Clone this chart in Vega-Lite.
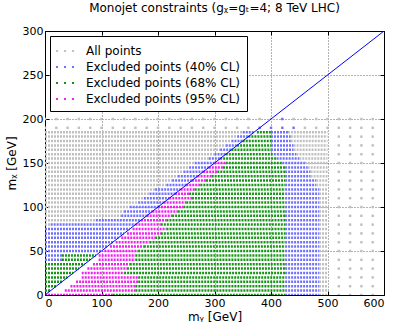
{
"$schema":"https://vega.github.io/schema/vega-lite/v6.json",
"width":339,"height":264,"autosize":"none",
"padding":{"left":45,"top":31,"right":15,"bottom":33},
"title":{"text":"Monojet constraints (gᵪ=gₜ=4; 8 TeV LHC)","fontSize":12,"fontWeight":"normal","font":"DejaVu Sans","color":"black","anchor":"middle","offset":10},
"config":{"view":{"stroke":"black","strokeWidth":1},
"axis":{"labelFont":"DejaVu Sans","labelFontSize":11,"labelColor":"black","titleFont":"DejaVu Sans","titleFontSize":12,"titleFontWeight":"normal","titleColor":"black","domain":false,"tickColor":"black","tickSize":-4,"labelPadding":6,"grid":true,"gridColor":"black","gridDash":[1,2],"gridOpacity":0.6,"zindex":1}},
"resolve":{"axis":{"x":"independent","y":"independent"}},
"datasets":{
"rows":[
{"y":0,"x1":0,"x2":120,"c":"m"},{"y":0,"x1":120,"x2":425,"c":"g"},{"y":0,"x1":425,"x2":485,"c":"b"},{"y":0,"x1":485,"x2":500,"c":"a"},
{"y":5,"x1":0,"x2":10,"c":"g"},{"y":5,"x1":35,"x2":160,"c":"m"},{"y":5,"x1":160,"x2":425,"c":"g"},{"y":5,"x1":425,"x2":485,"c":"b"},{"y":5,"x1":485,"x2":500,"c":"a"},
{"y":10,"x1":0,"x2":20,"c":"g"},{"y":10,"x1":45,"x2":160,"c":"m"},{"y":10,"x1":160,"x2":425,"c":"g"},{"y":10,"x1":425,"x2":485,"c":"b"},{"y":10,"x1":485,"x2":500,"c":"a"},
{"y":15,"x1":0,"x2":30,"c":"g"},{"y":15,"x1":55,"x2":165,"c":"m"},{"y":15,"x1":165,"x2":425,"c":"g"},{"y":15,"x1":425,"x2":485,"c":"b"},{"y":15,"x1":485,"x2":500,"c":"a"},
{"y":20,"x1":0,"x2":40,"c":"g"},{"y":20,"x1":65,"x2":165,"c":"m"},{"y":20,"x1":165,"x2":425,"c":"g"},{"y":20,"x1":425,"x2":485,"c":"b"},{"y":20,"x1":485,"x2":500,"c":"a"},
{"y":25,"x1":0,"x2":50,"c":"g"},{"y":25,"x1":65,"x2":140,"c":"m"},{"y":25,"x1":140,"x2":425,"c":"g"},{"y":25,"x1":425,"x2":485,"c":"b"},{"y":25,"x1":485,"x2":500,"c":"a"},
{"y":30,"x1":0,"x2":60,"c":"g"},{"y":30,"x1":75,"x2":145,"c":"m"},{"y":30,"x1":145,"x2":425,"c":"g"},{"y":30,"x1":425,"x2":485,"c":"b"},{"y":30,"x1":485,"x2":500,"c":"a"},
{"y":35,"x1":0,"x2":70,"c":"g"},{"y":35,"x1":85,"x2":150,"c":"m"},{"y":35,"x1":150,"x2":425,"c":"g"},{"y":35,"x1":425,"x2":485,"c":"b"},{"y":35,"x1":485,"x2":500,"c":"a"},
{"y":40,"x1":0,"x2":30,"c":"b"},{"y":40,"x1":30,"x2":80,"c":"g"},{"y":40,"x1":95,"x2":160,"c":"m"},{"y":40,"x1":160,"x2":425,"c":"g"},{"y":40,"x1":425,"x2":485,"c":"b"},{"y":40,"x1":485,"x2":500,"c":"a"},
{"y":45,"x1":0,"x2":30,"c":"b"},{"y":45,"x1":30,"x2":90,"c":"g"},{"y":45,"x1":95,"x2":160,"c":"m"},{"y":45,"x1":160,"x2":425,"c":"g"},{"y":45,"x1":425,"x2":485,"c":"b"},{"y":45,"x1":485,"x2":500,"c":"a"},
{"y":50,"x1":0,"x2":100,"c":"b"},{"y":50,"x1":105,"x2":165,"c":"m"},{"y":50,"x1":165,"x2":425,"c":"g"},{"y":50,"x1":425,"x2":485,"c":"b"},{"y":50,"x1":485,"x2":500,"c":"a"},
{"y":55,"x1":0,"x2":110,"c":"b"},{"y":55,"x1":115,"x2":175,"c":"m"},{"y":55,"x1":175,"x2":425,"c":"g"},{"y":55,"x1":425,"x2":485,"c":"b"},{"y":55,"x1":485,"x2":500,"c":"a"},
{"y":60,"x1":0,"x2":120,"c":"b"},{"y":60,"x1":125,"x2":185,"c":"m"},{"y":60,"x1":185,"x2":425,"c":"g"},{"y":60,"x1":425,"x2":485,"c":"b"},{"y":60,"x1":485,"x2":500,"c":"a"},
{"y":65,"x1":0,"x2":130,"c":"b"},{"y":65,"x1":135,"x2":195,"c":"m"},{"y":65,"x1":195,"x2":425,"c":"g"},{"y":65,"x1":425,"x2":485,"c":"b"},{"y":65,"x1":485,"x2":500,"c":"a"},
{"y":70,"x1":0,"x2":140,"c":"b"},{"y":70,"x1":145,"x2":205,"c":"m"},{"y":70,"x1":205,"x2":425,"c":"g"},{"y":70,"x1":425,"x2":485,"c":"b"},{"y":70,"x1":485,"x2":500,"c":"a"},
{"y":75,"x1":0,"x2":150,"c":"b"},{"y":75,"x1":155,"x2":215,"c":"m"},{"y":75,"x1":215,"x2":425,"c":"g"},{"y":75,"x1":425,"x2":485,"c":"b"},{"y":75,"x1":485,"x2":500,"c":"a"},
{"y":80,"x1":0,"x2":10,"c":"a"},{"y":80,"x1":10,"x2":160,"c":"b"},{"y":80,"x1":160,"x2":205,"c":"m"},{"y":80,"x1":205,"x2":425,"c":"g"},{"y":80,"x1":425,"x2":485,"c":"b"},{"y":80,"x1":485,"x2":500,"c":"a"},
{"y":85,"x1":0,"x2":90,"c":"a"},{"y":85,"x1":90,"x2":170,"c":"b"},{"y":85,"x1":170,"x2":215,"c":"m"},{"y":85,"x1":215,"x2":425,"c":"g"},{"y":85,"x1":425,"x2":485,"c":"b"},{"y":85,"x1":485,"x2":500,"c":"a"},
{"y":90,"x1":0,"x2":135,"c":"a"},{"y":90,"x1":135,"x2":180,"c":"b"},{"y":90,"x1":180,"x2":225,"c":"m"},{"y":90,"x1":225,"x2":425,"c":"g"},{"y":90,"x1":425,"x2":485,"c":"b"},{"y":90,"x1":485,"x2":500,"c":"a"},
{"y":95,"x1":0,"x2":140,"c":"a"},{"y":95,"x1":140,"x2":190,"c":"b"},{"y":95,"x1":190,"x2":235,"c":"m"},{"y":95,"x1":235,"x2":425,"c":"g"},{"y":95,"x1":425,"x2":485,"c":"b"},{"y":95,"x1":485,"x2":500,"c":"a"},
{"y":100,"x1":0,"x2":150,"c":"a"},{"y":100,"x1":150,"x2":200,"c":"b"},{"y":100,"x1":200,"x2":245,"c":"m"},{"y":100,"x1":245,"x2":425,"c":"g"},{"y":100,"x1":425,"x2":485,"c":"b"},{"y":100,"x1":485,"x2":500,"c":"a"},
{"y":105,"x1":0,"x2":165,"c":"a"},{"y":105,"x1":165,"x2":210,"c":"b"},{"y":105,"x1":210,"x2":250,"c":"m"},{"y":105,"x1":250,"x2":425,"c":"g"},{"y":105,"x1":425,"x2":485,"c":"b"},{"y":105,"x1":485,"x2":500,"c":"a"},
{"y":110,"x1":0,"x2":175,"c":"a"},{"y":110,"x1":175,"x2":220,"c":"b"},{"y":110,"x1":220,"x2":260,"c":"m"},{"y":110,"x1":260,"x2":425,"c":"g"},{"y":110,"x1":425,"x2":485,"c":"b"},{"y":110,"x1":485,"x2":500,"c":"a"},
{"y":115,"x1":0,"x2":185,"c":"a"},{"y":115,"x1":185,"x2":230,"c":"b"},{"y":115,"x1":230,"x2":255,"c":"m"},{"y":115,"x1":255,"x2":425,"c":"g"},{"y":115,"x1":425,"x2":485,"c":"b"},{"y":115,"x1":485,"x2":500,"c":"a"},
{"y":120,"x1":0,"x2":195,"c":"a"},{"y":120,"x1":195,"x2":240,"c":"b"},{"y":120,"x1":240,"x2":265,"c":"m"},{"y":120,"x1":265,"x2":425,"c":"g"},{"y":120,"x1":425,"x2":485,"c":"b"},{"y":120,"x1":485,"x2":500,"c":"a"},
{"y":125,"x1":0,"x2":215,"c":"a"},{"y":125,"x1":215,"x2":250,"c":"b"},{"y":125,"x1":250,"x2":275,"c":"m"},{"y":125,"x1":275,"x2":425,"c":"g"},{"y":125,"x1":425,"x2":480,"c":"b"},{"y":125,"x1":480,"x2":500,"c":"a"},
{"y":130,"x1":0,"x2":225,"c":"a"},{"y":130,"x1":225,"x2":260,"c":"b"},{"y":130,"x1":260,"x2":285,"c":"m"},{"y":130,"x1":285,"x2":425,"c":"g"},{"y":130,"x1":425,"x2":480,"c":"b"},{"y":130,"x1":480,"x2":500,"c":"a"},
{"y":135,"x1":0,"x2":235,"c":"a"},{"y":135,"x1":235,"x2":270,"c":"b"},{"y":135,"x1":270,"x2":295,"c":"m"},{"y":135,"x1":295,"x2":425,"c":"g"},{"y":135,"x1":425,"x2":470,"c":"b"},{"y":135,"x1":470,"x2":500,"c":"a"},
{"y":140,"x1":0,"x2":245,"c":"a"},{"y":140,"x1":245,"x2":280,"c":"b"},{"y":140,"x1":280,"x2":305,"c":"m"},{"y":140,"x1":305,"x2":425,"c":"g"},{"y":140,"x1":425,"x2":470,"c":"b"},{"y":140,"x1":470,"x2":500,"c":"a"},
{"y":145,"x1":0,"x2":255,"c":"a"},{"y":145,"x1":255,"x2":290,"c":"b"},{"y":145,"x1":290,"x2":315,"c":"m"},{"y":145,"x1":315,"x2":425,"c":"g"},{"y":145,"x1":425,"x2":465,"c":"b"},{"y":145,"x1":465,"x2":500,"c":"a"},
{"y":150,"x1":0,"x2":265,"c":"a"},{"y":150,"x1":265,"x2":300,"c":"b"},{"y":150,"x1":300,"x2":320,"c":"m"},{"y":150,"x1":320,"x2":420,"c":"g"},{"y":150,"x1":420,"x2":460,"c":"b"},{"y":150,"x1":460,"x2":500,"c":"a"},
{"y":155,"x1":0,"x2":290,"c":"a"},{"y":155,"x1":290,"x2":310,"c":"b"},{"y":155,"x1":310,"x2":410,"c":"g"},{"y":155,"x1":410,"x2":450,"c":"b"},{"y":155,"x1":450,"x2":500,"c":"a"},
{"y":160,"x1":0,"x2":300,"c":"a"},{"y":160,"x1":300,"x2":320,"c":"b"},{"y":160,"x1":320,"x2":405,"c":"g"},{"y":160,"x1":405,"x2":445,"c":"b"},{"y":160,"x1":445,"x2":500,"c":"a"},
{"y":165,"x1":0,"x2":310,"c":"a"},{"y":165,"x1":310,"x2":330,"c":"b"},{"y":165,"x1":330,"x2":400,"c":"g"},{"y":165,"x1":400,"x2":440,"c":"b"},{"y":165,"x1":440,"x2":500,"c":"a"},
{"y":170,"x1":0,"x2":320,"c":"a"},{"y":170,"x1":320,"x2":340,"c":"b"},{"y":170,"x1":340,"x2":400,"c":"g"},{"y":170,"x1":400,"x2":440,"c":"b"},{"y":170,"x1":440,"x2":500,"c":"a"},
{"y":175,"x1":0,"x2":330,"c":"a"},{"y":175,"x1":330,"x2":350,"c":"b"},{"y":175,"x1":350,"x2":400,"c":"g"},{"y":175,"x1":400,"x2":435,"c":"b"},{"y":175,"x1":435,"x2":500,"c":"a"},
{"y":180,"x1":0,"x2":340,"c":"a"},{"y":180,"x1":340,"x2":360,"c":"b"},{"y":180,"x1":360,"x2":400,"c":"g"},{"y":180,"x1":400,"x2":435,"c":"b"},{"y":180,"x1":435,"x2":500,"c":"a"},
{"y":185,"x1":0,"x2":350,"c":"a"},{"y":185,"x1":350,"x2":370,"c":"b"},{"y":185,"x1":375,"x2":400,"c":"g"},{"y":185,"x1":400,"x2":430,"c":"b"},{"y":185,"x1":430,"x2":500,"c":"a"}
],
"pts":[
{"x":0,"y":190,"c":"a"},{"x":20,"y":190,"c":"a"},{"x":40,"y":190,"c":"a"},{"x":60,"y":190,"c":"a"},{"x":80,"y":190,"c":"a"},{"x":100,"y":190,"c":"a"},{"x":120,"y":190,"c":"a"},{"x":140,"y":190,"c":"a"},{"x":160,"y":190,"c":"a"},{"x":180,"y":190,"c":"a"},{"x":200,"y":190,"c":"a"},{"x":220,"y":190,"c":"a"},{"x":240,"y":190,"c":"a"},{"x":260,"y":190,"c":"a"},{"x":280,"y":190,"c":"a"},{"x":300,"y":190,"c":"a"},{"x":320,"y":190,"c":"a"},{"x":340,"y":190,"c":"a"},{"x":360,"y":190,"c":"a"},{"x":380,"y":190,"c":"b"},{"x":400,"y":190,"c":"b"},{"x":420,"y":190,"c":"b"},{"x":440,"y":190,"c":"b"},{"x":460,"y":190,"c":"a"},{"x":480,"y":190,"c":"a"},{"x":500,"y":190,"c":"a"},
{"x":0,"y":200,"c":"a"},{"x":20,"y":200,"c":"a"},{"x":40,"y":200,"c":"a"},{"x":60,"y":200,"c":"a"},{"x":80,"y":200,"c":"a"},{"x":100,"y":200,"c":"a"},{"x":120,"y":200,"c":"a"},{"x":140,"y":200,"c":"a"},{"x":160,"y":200,"c":"a"},{"x":180,"y":200,"c":"a"},{"x":200,"y":200,"c":"a"},{"x":220,"y":200,"c":"a"},{"x":240,"y":200,"c":"a"},{"x":260,"y":200,"c":"a"},{"x":280,"y":200,"c":"a"},{"x":300,"y":200,"c":"a"},{"x":320,"y":200,"c":"a"},{"x":340,"y":200,"c":"a"},{"x":360,"y":200,"c":"a"},{"x":380,"y":200,"c":"a"},{"x":400,"y":200,"c":"a"},{"x":420,"y":200,"c":"b"},{"x":440,"y":200,"c":"a"},{"x":460,"y":200,"c":"a"},{"x":480,"y":200,"c":"a"},{"x":500,"y":200,"c":"a"},
{"x":520,"y":0,"c":"a"},{"x":520,"y":10,"c":"a"},{"x":520,"y":20,"c":"a"},{"x":520,"y":30,"c":"a"},{"x":520,"y":40,"c":"a"},{"x":520,"y":50,"c":"a"},{"x":520,"y":60,"c":"a"},{"x":520,"y":70,"c":"a"},{"x":520,"y":80,"c":"a"},{"x":520,"y":90,"c":"a"},{"x":520,"y":100,"c":"a"},{"x":520,"y":110,"c":"a"},{"x":520,"y":120,"c":"a"},{"x":520,"y":130,"c":"a"},{"x":520,"y":140,"c":"a"},{"x":520,"y":150,"c":"a"},{"x":520,"y":160,"c":"a"},{"x":520,"y":170,"c":"a"},{"x":520,"y":180,"c":"a"},{"x":520,"y":190,"c":"a"},{"x":520,"y":200,"c":"a"},
{"x":540,"y":0,"c":"a"},{"x":540,"y":10,"c":"a"},{"x":540,"y":20,"c":"a"},{"x":540,"y":30,"c":"a"},{"x":540,"y":40,"c":"a"},{"x":540,"y":50,"c":"a"},{"x":540,"y":60,"c":"a"},{"x":540,"y":70,"c":"a"},{"x":540,"y":80,"c":"a"},{"x":540,"y":90,"c":"a"},{"x":540,"y":100,"c":"a"},{"x":540,"y":110,"c":"a"},{"x":540,"y":120,"c":"a"},{"x":540,"y":130,"c":"a"},{"x":540,"y":140,"c":"a"},{"x":540,"y":150,"c":"a"},{"x":540,"y":160,"c":"a"},{"x":540,"y":170,"c":"a"},{"x":540,"y":180,"c":"a"},{"x":540,"y":190,"c":"a"},{"x":540,"y":200,"c":"a"},
{"x":560,"y":0,"c":"a"},{"x":560,"y":10,"c":"a"},{"x":560,"y":20,"c":"a"},{"x":560,"y":30,"c":"a"},{"x":560,"y":40,"c":"a"},{"x":560,"y":50,"c":"a"},{"x":560,"y":60,"c":"a"},{"x":560,"y":70,"c":"a"},{"x":560,"y":80,"c":"a"},{"x":560,"y":90,"c":"a"},{"x":560,"y":100,"c":"a"},{"x":560,"y":110,"c":"a"},{"x":560,"y":120,"c":"a"},{"x":560,"y":130,"c":"a"},{"x":560,"y":140,"c":"a"},{"x":560,"y":150,"c":"a"},{"x":560,"y":160,"c":"a"},{"x":560,"y":170,"c":"a"},{"x":560,"y":180,"c":"a"},{"x":560,"y":190,"c":"a"},{"x":560,"y":200,"c":"a"},
{"x":580,"y":0,"c":"a"},{"x":580,"y":10,"c":"a"},{"x":580,"y":20,"c":"a"},{"x":580,"y":30,"c":"a"},{"x":580,"y":40,"c":"a"},{"x":580,"y":50,"c":"a"},{"x":580,"y":60,"c":"a"},{"x":580,"y":70,"c":"a"},{"x":580,"y":80,"c":"a"},{"x":580,"y":90,"c":"a"},{"x":580,"y":100,"c":"a"},{"x":580,"y":110,"c":"a"},{"x":580,"y":120,"c":"a"},{"x":580,"y":130,"c":"a"},{"x":580,"y":140,"c":"a"},{"x":580,"y":150,"c":"a"},{"x":580,"y":160,"c":"a"},{"x":580,"y":170,"c":"a"},{"x":580,"y":180,"c":"a"},{"x":580,"y":190,"c":"a"},{"x":580,"y":200,"c":"a"}
],
"diag":[{"x":0,"y":0,"x2":600,"y2":300}]
},
"layer":[
{"data":{"name":"rows"},
 "mark":{"type":"rule","strokeWidth":2.5,"strokeDash":[2,1],"clip":true},
 "encoding":{
  "x":{"field":"x1","type":"quantitative","scale":{"domain":[0,600],"nice":false},"axis":{"values":[0,100,200,300,400,500,600],"title":"mᵧ [GeV]","titlePadding":3}},
  "x2":{"field":"x2"},
  "y":{"field":"y","type":"quantitative","scale":{"domain":[0,300],"nice":false},"axis":{"values":[0,50,100,150,200,250,300],"title":"mᵪ [GeV]","titlePadding":4}},
  "color":{"field":"c","type":"nominal","scale":{"domain":["a","b","g","m"],"range":["#c0c0c0","#7070ff","#149614","#f020f0"]},
   "legend":{"title":null,"orient":"top-left","offset":5,"padding":6,"strokeColor":"black","fillColor":"white","zindex":2,
     "labelFont":"DejaVu Sans","labelFontSize":12,"labelColor":"black","labelOffset":12,"rowPadding":1,
     "symbolSize":290,"symbolType":"M-1.06,-0.12h0.24v0.24h-0.24z M-0.12,-0.12h0.24v0.24h-0.24z M0.82,-0.12h0.24v0.24h-0.24z",
     "symbolStrokeWidth":0,
     "labelExpr":"datum.value=='a'?'All points':datum.value=='b'?'Excluded points (40% CL)':datum.value=='g'?'Excluded points (68% CL)':'Excluded points (95% CL)'",
     "encode":{"symbols":{"update":{"fill":{"scale":"color","field":"value"},"stroke":{"value":"transparent"}}}}}}
 }},
{"data":{"name":"pts"},
 "mark":{"type":"square","size":6,"opacity":1,"clip":true},
 "encoding":{"x":{"field":"x","type":"quantitative","axis":null},"y":{"field":"y","type":"quantitative","axis":null},"color":{"field":"c","type":"nominal"}}},
{"data":{"name":"diag"},
 "mark":{"type":"rule","color":"#0000ff","strokeWidth":1,"clip":true},
 "encoding":{"x":{"field":"x","type":"quantitative","axis":{"orient":"top","values":[0,100,200,300,400,500,600],"labels":false,"title":null,"grid":false}},"y":{"field":"y","type":"quantitative","axis":{"orient":"right","values":[0,50,100,150,200,250,300],"labels":false,"title":null,"grid":false}},"x2":{"field":"x2"},"y2":{"field":"y2"}}}
]
}
